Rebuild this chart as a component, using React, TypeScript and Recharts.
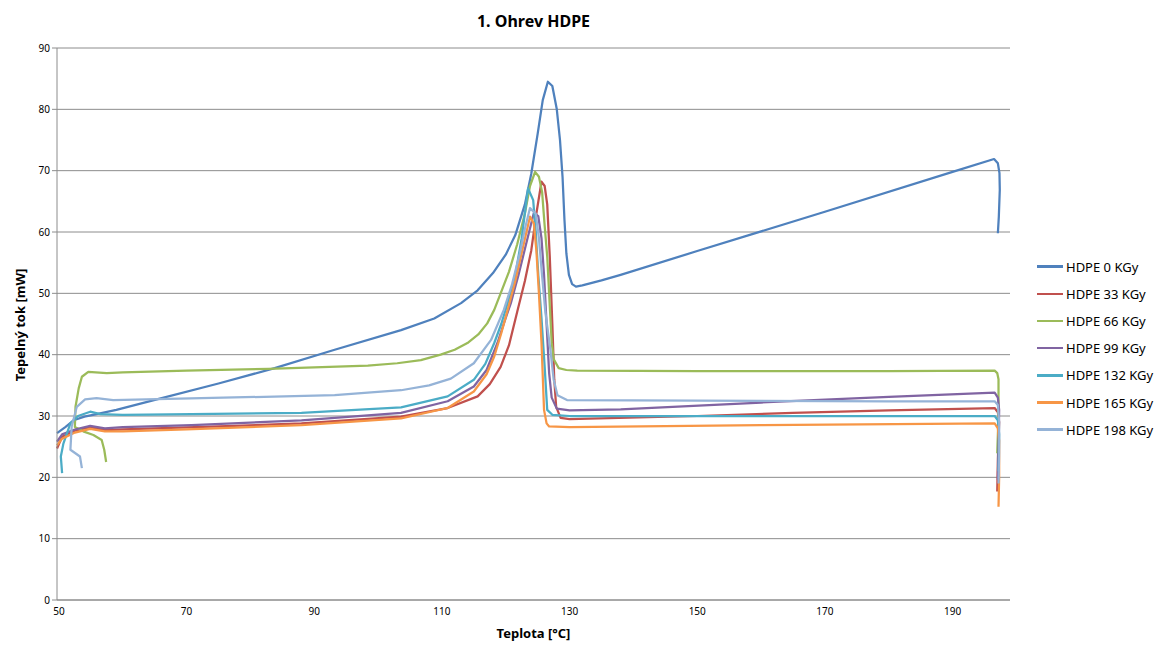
import { CartesianGrid, Line, LineChart, XAxis, YAxis } from "recharts";

type Pt = [number, number];

// Teplota [°C], tepelný tok [mW]
const hdpe0: Pt[] = [
	[49.7, 27.2], [51, 28.2], [52.3, 29.3], [54, 29.9], [55.9, 30.3], [59, 31], [66.1, 32.9], [75, 35.3],
	[83.8, 37.8], [93.2, 40.8], [103.6, 44.0], [108.8, 45.9], [113, 48.4], [115.6, 50.5], [118, 53.3],
	[120, 56.3], [121.5, 59.5], [123, 64.5], [124, 69.5], [125, 76], [125.8, 81.5], [126.6, 84.5],
	[127.3, 83.8], [128, 80], [128.5, 75], [128.9, 69], [129.2, 62], [129.5, 56.5], [129.9, 53],
	[130.4, 51.5], [131, 51.1], [132, 51.3], [135, 52.1], [138, 53.0], [150, 56.9], [170, 63.3],
	[190, 69.8], [196.5, 71.9], [197.1, 71.2], [197.35, 69.6], [197.4, 66.9], [197.25, 62.5], [197.1, 59.8],
];

const hdpe33: Pt[] = [
	[49.7, 24.7], [50.5, 26.6], [52.5, 27.6], [54.9, 28.2], [57.2, 27.7], [60, 27.8], [75, 28.3],
	[88, 28.8], [103.6, 29.9], [110.9, 31.3], [115.6, 33.2], [117.5, 35.2], [119.2, 38], [120.5, 41.5],
	[121.8, 47], [123, 52], [124, 57], [124.8, 63], [125.6, 68.2], [126.1, 67.5], [126.5, 64.5],
	[126.9, 56], [127.3, 45], [127.6, 36], [127.9, 31.5], [128.6, 29.7], [130, 29.5], [150, 30.0],
	[165, 30.5], [180, 30.9], [196.6, 31.3], [197.1, 30.6], [197.3, 29], [197.1, 23], [197.0, 17.7],
];

const hdpe66: Pt[] = [
	[57.4, 22.5], [57.1, 24.5], [56.7, 26.1], [55.4, 26.9], [53.8, 27.5], [52.5, 28.2], [52.6, 31.5],
	[53.1, 34.5], [53.6, 36.4], [54.6, 37.2], [57.5, 37.0], [60, 37.1], [70, 37.4], [82.8, 37.7],
	[98.4, 38.2], [103, 38.6], [106.7, 39.1], [109.8, 40.0], [112, 40.8], [114, 41.9], [115.7, 43.3],
	[117.1, 45.1], [118.2, 47.3], [119.2, 50], [120.5, 53.5], [121.8, 58], [123, 63], [123.8, 67.5],
	[124.6, 69.8], [125.2, 69], [125.7, 66.5], [126.1, 61], [126.5, 56], [126.9, 48], [127.2, 42],
	[127.5, 39.3], [128.3, 37.8], [129.5, 37.5], [131.2, 37.4], [150, 37.3], [180, 37.3], [196.6, 37.4],
	[197.0, 37.0], [197.2, 36], [197.2, 30], [197.0, 23.9],
];

const hdpe99: Pt[] = [
	[49.7, 25.8], [50.5, 27], [52.5, 27.8], [54.9, 28.4], [57.2, 28.0], [60, 28.2], [70.8, 28.5],
	[88, 29.3], [103.6, 30.5], [110.9, 32.4], [115, 34.8], [117, 37.5], [118.7, 41.9], [120, 46],
	[120.8, 48.4], [122, 53], [123.3, 58.5], [124.4, 63.1], [125.1, 62.6], [125.6, 59], [126, 53],
	[126.4, 45], [126.8, 37], [127.2, 33], [128, 31.2], [130, 30.9], [138, 31.1], [160, 32.2],
	[180, 33.1], [196.6, 33.8], [197.1, 33], [197.3, 31], [197.2, 25], [197.1, 19.6],
];

const hdpe132: Pt[] = [
	[50.5, 20.7], [50.3, 23.4], [50.7, 25.5], [51.8, 28.8], [53, 30], [54.9, 30.7], [56.5, 30.3],
	[60, 30.2], [70.8, 30.3], [88, 30.5], [103.6, 31.4], [110.9, 33.2], [115, 35.9], [116.8, 38.5],
	[118.2, 41.9], [119.3, 45], [120.3, 48.4], [121.5, 53], [122.5, 59], [123.5, 67.1], [124.3, 65.2],
	[124.7, 60], [125.1, 53], [125.6, 46], [126.1, 38], [126.5, 31], [127.3, 30.2], [130, 30.0],
	[160, 30.0], [196.6, 30.0], [197.1, 29.3], [197.3, 27], [197.2, 21],
];

const hdpe165: Pt[] = [
	[49.7, 25.2], [50.5, 26.3], [52.5, 27.3], [54.9, 27.9], [57.2, 27.5], [60, 27.5], [70, 27.8],
	[88, 28.5], [103.6, 29.6], [110.9, 31.3], [115, 34], [117, 36.8], [118.2, 39.7], [119.3, 43.5],
	[120.3, 47.3], [121.5, 52], [122.7, 57.5], [123.8, 62.5], [124.4, 61.4], [124.8, 57], [125.2, 50],
	[125.6, 42], [126, 31], [126.4, 28.8], [126.8, 28.3], [130, 28.2], [160, 28.5], [196.6, 28.8],
	[197.1, 28], [197.3, 26], [197.3, 20], [197.2, 15.2],
];

const hdpe198: Pt[] = [
	[53.6, 21.5], [53.3, 23.4], [51.8, 24.5], [52, 28.3], [52.8, 31.5], [54.1, 32.7], [55.9, 32.9],
	[58.5, 32.6], [72.3, 32.9], [93.2, 33.4], [103.6, 34.2], [108, 35], [111.4, 36.1], [115, 38.6],
	[117.7, 42.4], [119.7, 47.3], [121, 51.5], [122.2, 56.5], [123, 60.5], [123.8, 63.9], [124.7, 63],
	[125.2, 59], [125.6, 54], [126.2, 47], [127, 40.8], [127.5, 36], [128.1, 33.4], [129.6, 32.6],
	[150, 32.5], [180, 32.4], [196.6, 32.4], [197.1, 31.8], [197.3, 29], [197.3, 24], [197.2, 19],
];

const seriesNames = ["HDPE 0 KGy", "HDPE 33 KGy", "HDPE 66 KGy", "HDPE 99 KGy", "HDPE 132 KGy", "HDPE 165 KGy", "HDPE 198 KGy"];
const seriesData = [hdpe0, hdpe33, hdpe66, hdpe99, hdpe132, hdpe165, hdpe198];
const COLORS = ["#4F81BD", "#C0504D", "#9BBB59", "#8064A2", "#4BACC6", "#F79646", "#95B3D7"];

const xTicks = [50, 70, 90, 110, 130, 150, 170, 190];
const yTicks = [0, 10, 20, 30, 40, 50, 60, 70, 80, 90];

const FONT = "'Noto Sans', 'Open Sans', sans-serif";

function LegendBox() {
	return (
		<div style={{ position: "absolute", left: 1037, top: 253, fontFamily: FONT, fontSize: 13, color: "#000" }}>
			{seriesNames.map((name, i) => (
				<div key={name} style={{ display: "flex", alignItems: "center", height: 27.2 }}>
					<span style={{ display: "inline-block", width: 26, height: 2.5, background: COLORS[i], marginRight: 3 }} />
					<span>{name}</span>
				</div>
			))}
		</div>
	);
}

export default function App() {
	return (
		<div style={{ position: "absolute", left: 0, top: 0, width: 1162, height: 646, background: "#fff" }}>
			<div style={{ position: "absolute", left: 57, width: 953, top: 10, textAlign: "center", fontFamily: FONT, fontWeight: 700, fontSize: 16 }}>
				1. Ohrev HDPE
			</div>
			<div style={{ position: "absolute", left: 57, width: 953, top: 624, textAlign: "center", fontFamily: FONT, fontWeight: 700, fontSize: 13 }}>
				Teplota [°C]
			</div>
			<div
				style={{
					position: "absolute",
					left: 20,
					top: 325,
					transform: "translate(-50%, -50%) rotate(-90deg)",
					whiteSpace: "nowrap",
					fontFamily: FONT,
					fontWeight: 700,
					fontSize: 13,
				}}
			>
				Tepelný tok [mW]
			</div>
			<LineChart width={1162} height={646} margin={{ top: 48, right: 152, bottom: 16, left: 0 }} style={{ position: "absolute", left: 0, top: 0 }}>
				<CartesianGrid vertical={false} stroke="#8c8c8c" />
				<XAxis
					type="number"
					dataKey="t"
					domain={[50, 199]}
					ticks={xTicks}
					height={30}
					tickLine={false}
					axisLine={{ stroke: "#8c8c8c" }}
					tick={{ fontSize: 10, fill: "#000", fontFamily: FONT }}
					allowDuplicatedCategory={false}
				/>
				<YAxis
					type="number"
					domain={[0, 90]}
					ticks={yTicks}
					width={57}
					tickSize={5}
					axisLine={{ stroke: "#8c8c8c" }}
					tickLine={{ stroke: "#8c8c8c" }}
					tick={{ fontSize: 10, fill: "#000", fontFamily: FONT }}
				/>
				{seriesData.map((pts, i) => (
					<Line
						key={seriesNames[i]}
						name={seriesNames[i]}
						data={pts.map(([t, v]) => ({ t, v }))}
						dataKey="v"
						type="linear"
						stroke={COLORS[i]}
						strokeWidth={2.25}
						strokeLinejoin="round"
						dot={false}
						activeDot={false}
						isAnimationActive={false}
					/>
				))}
			</LineChart>
			<LegendBox />
		</div>
	);
}
